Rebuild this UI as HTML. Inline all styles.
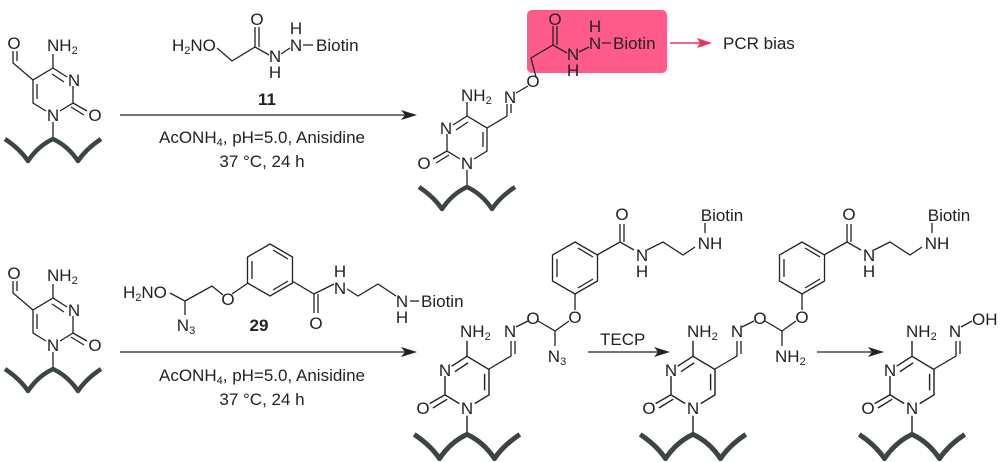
<!DOCTYPE html>
<html><head><meta charset="utf-8"><style>
html,body{margin:0;padding:0;background:#fff;}
svg{display:block;font-family:"Liberation Sans",sans-serif;}
text{font-size:17px;fill:#222;}
.b{stroke:#222;stroke-width:1.3;fill:none;}
</style></head><body>
<svg width="1000" height="462" viewBox="0 0 1000 462">
<defs>
<g id="cy">
 <path class="b" d="M7,-4L20,-12L20,-29 M14,-38L0,-47L-20,-35L-20,-12L-7,-4 M11,-33L-1,-41 M-16,-31L-16,-16 M0,-47L0,-61 M20,-12L34,-4 M18,-8L31,0 M0,7L0,24"/>
 <path d="M-48,24 Q-33,34 -25,46 Q-15,31 0,24 Q15,31 25,46 Q33,34 48,24" stroke="#3c4446" stroke-width="4.5" fill="none" stroke-linejoin="round"/>
</g>
<g id="ring">
 <path class="b" d="M0,-26L22.5,-13L22.5,13L0,26L-22.5,13L-22.5,-13Z M3,-20L18,-11 M18,11L3,20 M-18,-9L-18,9"/>
</g>
</defs>

<use href="#cy" transform="translate(53,115)"/>
<text x="53" y="121" text-anchor="middle">N</text>
<text x="74" y="86" text-anchor="middle">N</text>
<text x="95" y="121" text-anchor="middle">O</text>
<text x="47" y="51">NH<tspan font-size="11" dy="3">2</tspan></text>
<path class="b" d="M33,80L13,63L13,51 M17,61L17,51"/>
<text x="14" y="49" text-anchor="middle">O</text>

<text x="172" y="51">H<tspan font-size="11" dy="3">2</tspan><tspan dy="-3">NO</tspan></text>
<path class="b" d="M217,48L232,61L255,47L269,55 M255,47L255,27 M259,47L259,27 M281,54L290,48 M303,45L313,45"/>
<text x="257" y="25" text-anchor="middle">O</text>
<text x="275" y="62" text-anchor="middle">N</text>
<text x="275" y="78" text-anchor="middle">H</text>
<text x="296" y="51" text-anchor="middle">N</text>
<text x="296" y="34" text-anchor="middle">H</text>
<text x="316" y="51">Biotin</text>
<text x="267" y="105" text-anchor="middle" font-weight="bold">11</text>
<path class="b" d="M120,115L405,115"/>
<path d="M417,115L401,110L405,115L401,120Z" fill="#222"/>
<text x="262" y="143" text-anchor="middle">AcONH<tspan font-size="11" dy="3">4</tspan><tspan dy="-3">, pH=5.0, Anisidine</tspan></text>
<text x="262" y="167" text-anchor="middle">37 °C, 24 h</text>

<rect x="527" y="10" width="140" height="63" rx="5" fill="#fe5b8b"/>
<use href="#cy" transform="translate(467,163) scale(-1,1)"/>
<text x="467" y="169" text-anchor="middle">N</text>
<text x="446" y="134" text-anchor="middle">N</text>
<text x="424" y="169" text-anchor="middle">O</text>
<text x="461" y="101">NH<tspan font-size="11" dy="3">2</tspan></text>
<path class="b" d="M487,128L507,116L507,104 M511,113L511,104 M516,93L528,86 M536,77L531,58L553,45L567,53 M553,45L553,26 M557,45L557,26 M579,52L589,47 M602,43L611,43"/>
<text x="510" y="103" text-anchor="middle">N</text>
<text x="533" y="87" text-anchor="middle">O</text>
<text x="555" y="25" text-anchor="middle">O</text>
<text x="573" y="60" text-anchor="middle">N</text>
<text x="573" y="76" text-anchor="middle">H</text>
<text x="595" y="49" text-anchor="middle">N</text>
<text x="595" y="32" text-anchor="middle">H</text>
<text x="613" y="49">Biotin</text>
<path d="M670,43L700,43" stroke="#e8325e" stroke-width="1.5"/>
<path d="M712,43L697,38L700,43L697,48Z" fill="#e8325e"/>
<text x="723" y="49">PCR bias</text>

<use href="#cy" transform="translate(53,345)"/>
<text x="53" y="351" text-anchor="middle">N</text>
<text x="74" y="316" text-anchor="middle">N</text>
<text x="95" y="351" text-anchor="middle">O</text>
<text x="47" y="281">NH<tspan font-size="11" dy="3">2</tspan></text>
<path class="b" d="M33,310L13,293L13,281 M17,291L17,281"/>
<text x="14" y="279" text-anchor="middle">O</text>

<text x="123" y="298">H<tspan font-size="11" dy="3">2</tspan><tspan dy="-3">NO</tspan></text>
<path class="b" d="M170,293L185,301L185,315 M185,301L212,286L223,295 M232,294L248,283 M292,281L314,294L334,284 M314,294L314,313 M318,294L318,313 M347,289L358,296L378,284L396,296"/>
<use href="#ring" transform="translate(270,270)"/>
<text x="186" y="331" text-anchor="middle">N<tspan font-size="11" dy="3">3</tspan></text>
<text x="228" y="305" text-anchor="middle">O</text>
<text x="316" y="329" text-anchor="middle">O</text>
<text x="340" y="294" text-anchor="middle">N</text>
<text x="340" y="277" text-anchor="middle">H</text>
<text x="402" y="307" text-anchor="middle">N</text>
<text x="402" y="323" text-anchor="middle">H</text>
<path class="b" d="M410,301L419,301"/>
<text x="421" y="307">Biotin</text>
<text x="259" y="331" text-anchor="middle" font-weight="bold">29</text>
<path class="b" d="M120,352L405,352"/>
<path d="M417,352L401,347L405,352L401,357Z" fill="#222"/>
<text x="262" y="381" text-anchor="middle">AcONH<tspan font-size="11" dy="3">4</tspan><tspan dy="-3">, pH=5.0, Anisidine</tspan></text>
<text x="262" y="405" text-anchor="middle">37 °C, 24 h</text>

<use href="#cy" transform="translate(467,408) scale(-1.1,1.1)"/>
<text x="467" y="414" text-anchor="middle">N</text>
<text x="445" y="376" text-anchor="middle">N</text>
<text x="423" y="414" text-anchor="middle">O</text>
<text x="460" y="337">NH<tspan font-size="11" dy="3">2</tspan></text>
<path class="b" d="M489,369L511,356L511,341 M515,354L515,341 M516,327L528,321 M538,321L555,331L569,321 M555,331L555,346 M575,310L575,294 M597,255L620,242L634,250 M620,242L620,224 M624,242L624,224 M647,250L663,242L683,255L695,247 M705,233L705,223"/>
<use href="#ring" transform="translate(575,268)"/>
<text x="510" y="337" text-anchor="middle">N</text>
<text x="533" y="324" text-anchor="middle">O</text>
<text x="575" y="323" text-anchor="middle">O</text>
<text x="557" y="362" text-anchor="middle">N<tspan font-size="11" dy="3">3</tspan></text>
<text x="622" y="220" text-anchor="middle">O</text>
<text x="642" y="261" text-anchor="middle">N</text>
<text x="642" y="277" text-anchor="middle">H</text>
<text x="710" y="249" text-anchor="middle">NH</text>
<text x="722" y="221" text-anchor="middle">Biotin</text>
<path class="b" d="M588,352L658,352"/>
<path d="M670,352L654,347L658,352L654,357Z" fill="#222"/>
<text x="600" y="345">TECP</text>

<use href="#cy" transform="translate(693,408) scale(-1.1,1.1)"/>
<text x="693" y="414" text-anchor="middle">N</text>
<text x="671" y="376" text-anchor="middle">N</text>
<text x="649" y="414" text-anchor="middle">O</text>
<text x="687" y="337">NH<tspan font-size="11" dy="3">2</tspan></text>
<path class="b" d="M715,369L737,356L737,341 M741,354L741,341 M742,327L754,321 M765,321L782,331L796,321 M782,331L782,346 M802,310L802,294 M824,255L847,242L861,250 M847,242L847,224 M851,242L851,224 M874,250L890,242L910,255L922,247 M932,233L932,223"/>
<use href="#ring" transform="translate(802,268)"/>
<text x="737" y="337" text-anchor="middle">N</text>
<text x="760" y="324" text-anchor="middle">O</text>
<text x="802" y="323" text-anchor="middle">O</text>
<text x="775" y="362">NH<tspan font-size="11" dy="3">2</tspan></text>
<text x="849" y="220" text-anchor="middle">O</text>
<text x="869" y="261" text-anchor="middle">N</text>
<text x="869" y="277" text-anchor="middle">H</text>
<text x="937" y="249" text-anchor="middle">NH</text>
<text x="949" y="221" text-anchor="middle">Biotin</text>
<path class="b" d="M817,352L872,352"/>
<path d="M884,352L868,347L872,352L868,357Z" fill="#222"/>

<use href="#cy" transform="translate(912,408) scale(-1.1,1.1)"/>
<text x="912" y="414" text-anchor="middle">N</text>
<text x="890" y="376" text-anchor="middle">N</text>
<text x="868" y="414" text-anchor="middle">O</text>
<text x="906" y="337">NH<tspan font-size="11" dy="3">2</tspan></text>
<path class="b" d="M934,369L956,356L956,341 M960,354L960,341 M961,327L972,321"/>
<text x="955" y="337" text-anchor="middle">N</text>
<text x="972" y="325">OH</text>
</svg>
</body></html>
